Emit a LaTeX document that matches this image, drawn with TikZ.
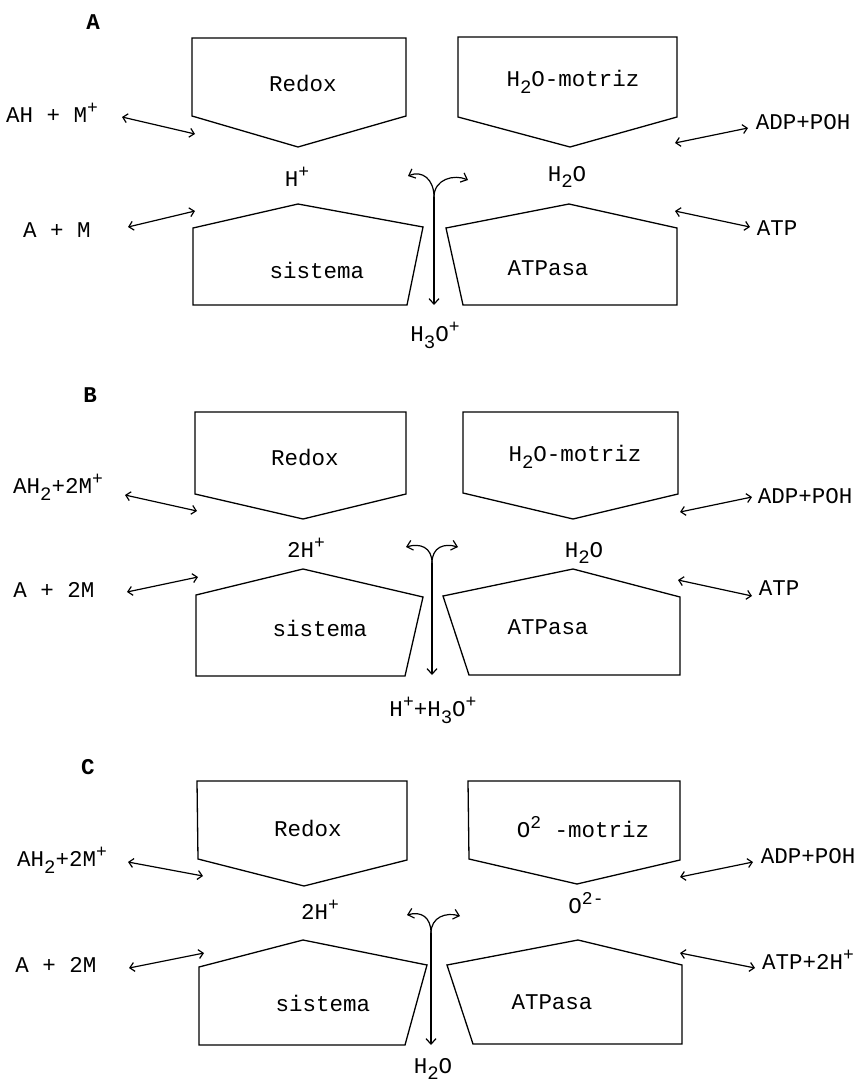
\documentclass[tikz,border=0pt]{standalone}
\usepackage{fontspec}
\setmainfont{Liberation Mono}
\usetikzlibrary{arrows.meta}
% lowered and raised indices, set nearly at full size as on a typewriter
\newcommand\dnx[1]{\raisebox{-0.55ex}{\fontsize{19}{20}\selectfont #1}}
\newcommand\upx[1]{\raisebox{0.8ex}{\fontsize{18}{20}\selectfont #1}}
\tikzset{
  every node/.style={font=\fontsize{22.5}{25}\selectfont, inner sep=0pt},
  blk/.style={draw, line width=1.3pt, line join=miter},
  rxn/.style={{Straight Barb[length=4.5pt,width=9pt]}-{Straight Barb[length=4.5pt,width=9pt]}, line width=1.2pt},
  flow/.style={-{Straight Barb[length=5.5pt,width=10pt]}, line width=1.2pt},
  tag/.style={font=\bfseries\fontsize{22.5}{25}\selectfont}
}
\begin{document}
\begin{tikzpicture}[x=1pt,y=-1pt]
\path[use as bounding box] (0,0) rectangle (859,1084);

% ---------------- panel A ----------------
\node[tag] (A-tag) at (93,22) {A};
\draw[blk] (192,38) -- (406,38) -- (406,116) -- (298,147) -- (192,116) -- cycle;
\draw[blk] (458,37) -- (677,37) -- (677,117) -- (570,147) -- (458,117) -- cycle;
\draw[blk] (193,228) -- (298,204) -- (423,227) -- (407,305) -- (193,305) -- cycle;
\draw[blk] (446,228) -- (569,204) -- (677,228) -- (677,305) -- (463,305) -- cycle;
\node (A-redox) at (303,83) {Redox};
\node (A-motor) at (573,82) {H\dnx{2}O-motriz};
\node (A-sis) at (317,270) {sistema};
\node (A-atpasa) at (548,268) {ATPasa};
\node (A-h) at (297,177) {H\upx{+}};
\node (A-w) at (567,177) {H\dnx{2}O};
\node (A-prod) at (435,335) {H\dnx{3}O\upx{+}};
\node (A-sub1) at (52,113) {AH + M\upx{+}};
\node (A-sub2) at (57,230) {A + M};
\node (A-adp) at (803,122) {ADP+POH};
\node (A-atp) at (777,228) {ATP};
\coordinate (A-l1a) at (122,117); \coordinate (A-l1b) at (195,134);
\coordinate (A-l2a) at (128,227); \coordinate (A-l2b) at (195,211);
\coordinate (A-r1a) at (675,143); \coordinate (A-r1b) at (748,128);
\coordinate (A-r2a) at (675,211); \coordinate (A-r2b) at (750,227);
\draw[rxn] (A-l1a) -- (A-l1b);
\draw[rxn] (A-l2a) -- (A-l2b);
\draw[rxn] (A-r1a) -- (A-r1b);
\draw[rxn] (A-r2a) -- (A-r2b);
\coordinate (A-fork) at (434,197); \coordinate (A-out) at (434,305);
\coordinate (A-left) at (408,176); \coordinate (A-right) at (468,180);
\draw[flow] (A-fork) -- (A-out);
\draw[flow] (A-fork) .. controls +(0,-18) and +(14,-6) .. (A-left);
\draw[flow] (A-fork) .. controls +(0,-18) and +(-14,-6) .. (A-right);

% ---------------- panel B ----------------
\node[tag] (B-tag) at (90,395) {B};
\draw[blk] (195,412) -- (406,412) -- (406,494) -- (303,519) -- (195,494) -- cycle;
\draw[blk] (463,412) -- (678,412) -- (678,494) -- (573,519) -- (463,493) -- cycle;
\draw[blk] (196,595) -- (303,569) -- (423,597) -- (405,676) -- (196,676) -- cycle;
\draw[blk] (443,596) -- (573,569) -- (680,597) -- (680,675) -- (469,675) -- cycle;
\node (B-redox) at (305,457) {Redox};
\node (B-motor) at (575,457) {H\dnx{2}O-motriz};
\node (B-sis) at (320,628) {sistema};
\node (B-atpasa) at (548,627) {ATPasa};
\node (B-h) at (306,548) {2H\upx{+}};
\node (B-w) at (584,553) {H\dnx{2}O};
\node (B-prod) at (433,710) {H\upx{+}+H\dnx{3}O\upx{+}};
\node (B-sub1) at (58,487) {AH\dnx{2}+2M\upx{+}};
\node (B-sub2) at (54,590) {A + 2M};
\node (B-adp) at (805,496) {ADP+POH};
\node (B-atp) at (779,588) {ATP};
\coordinate (B-l1a) at (125,495); \coordinate (B-l1b) at (197,511);
\coordinate (B-l2a) at (127,592); \coordinate (B-l2b) at (198,577);
\coordinate (B-r1a) at (680,512); \coordinate (B-r1b) at (752,497);
\coordinate (B-r2a) at (678,580); \coordinate (B-r2b) at (752,596);
\draw[rxn] (B-l1a) -- (B-l1b);
\draw[rxn] (B-l2a) -- (B-l2b);
\draw[rxn] (B-r1a) -- (B-r1b);
\draw[rxn] (B-r2a) -- (B-r2b);
\coordinate (B-fork) at (432,563); \coordinate (B-out) at (432,675);
\coordinate (B-left) at (406,547); \coordinate (B-right) at (458,547);
\draw[flow] (B-fork) -- (B-out);
\draw[flow] (B-fork) .. controls +(0,-16) and +(14,-4) .. (B-left);
\draw[flow] (B-fork) .. controls +(0,-16) and +(-14,-4) .. (B-right);

% ---------------- panel C ----------------
\node[tag] (C-tag) at (88,767) {C};
\draw[blk] (197,781) -- (407,781) -- (407,860) -- (304,886) -- (198,859) -- cycle;
\draw[blk] (468,781) -- (680,781) -- (680,860) -- (577,884) -- (469,859) -- cycle;
\draw[blk] (199,967) -- (303,940) -- (427,965) -- (405,1045) -- (199,1045) -- cycle;
\draw[blk] (447,965) -- (578,940) -- (682,965) -- (682,1044) -- (473,1044) -- cycle;
\node (C-redox) at (308,828) {Redox};
\node (C-motor) at (583,827) {O\upx{2} -motriz};
\node (C-sis) at (323,1003) {sistema};
\node (C-atpasa) at (552,1002) {ATPasa};
\node (C-h) at (320,910) {2H\upx{+}};
\node (C-o) at (586,903) {O\upx{2-}};
\node (C-prod) at (433,1069) {H\dnx{2}O};
\node (C-sub1) at (62,860) {AH\dnx{2}+2M\upx{+}};
\node (C-sub2) at (56,965) {A + 2M};
\node (C-adp) at (808,856) {ADP+POH};
\node (C-atp) at (808,960) {ATP+2H\upx{+}};
\coordinate (C-l1a) at (128,862); \coordinate (C-l1b) at (203,876);
\coordinate (C-l2a) at (129,968); \coordinate (C-l2b) at (204,953);
\coordinate (C-r1a) at (680,877); \coordinate (C-r1b) at (753,862);
\coordinate (C-r2a) at (680,953); \coordinate (C-r2b) at (755,968);
\draw[rxn] (C-l1a) -- (C-l1b);
\draw[rxn] (C-l2a) -- (C-l2b);
\draw[rxn] (C-r1a) -- (C-r1b);
\draw[rxn] (C-r2a) -- (C-r2b);
\coordinate (C-fork) at (431,933); \coordinate (C-out) at (431,1045);
\coordinate (C-left) at (407,915); \coordinate (C-right) at (460,916);
\draw[flow] (C-fork) -- (C-out);
\draw[flow] (C-fork) .. controls +(0,-16) and +(14,-4) .. (C-left);
\draw[flow] (C-fork) .. controls +(0,-16) and +(-14,-4) .. (C-right);
\end{tikzpicture}
\end{document}
